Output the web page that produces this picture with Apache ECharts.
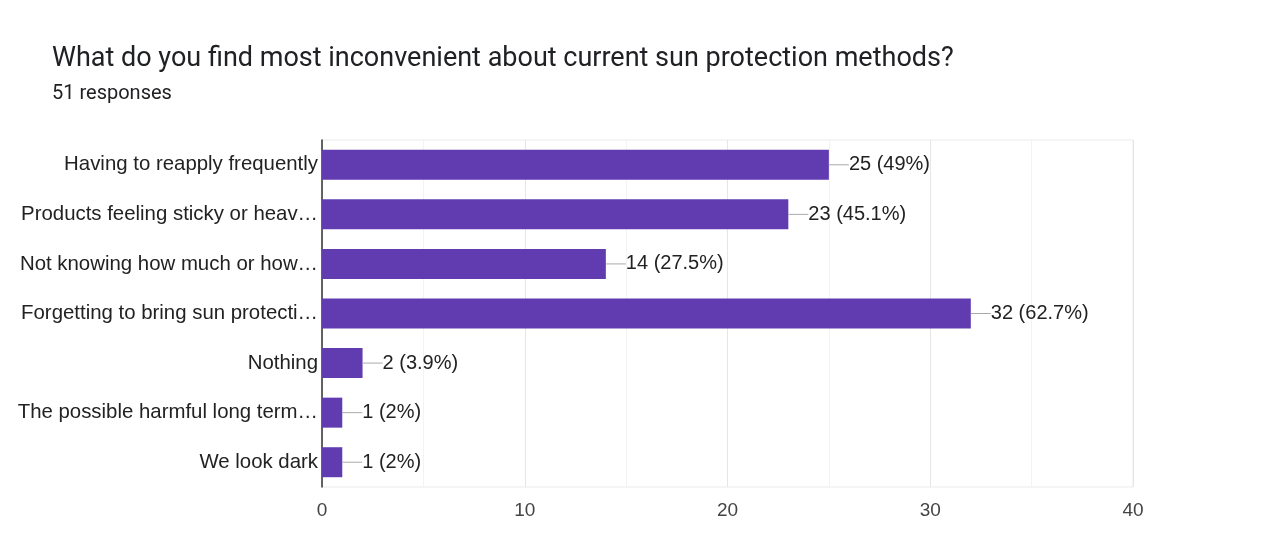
<!DOCTYPE html>
<html>
<head>
<meta charset="utf-8">
<script src="https://cdn.jsdelivr.net/npm/echarts@6/dist/echarts.min.js"></script>
<style>
html,body{margin:0;padding:0;background:#fff;}
#c{width:1262px;height:552px;}
</style>
</head>
<body>
<div id="c"></div>
<script>
const categories = [
  "Having to reapply frequently",
  "Products feeling sticky or heav\u2026",
  "Not knowing how much or how\u2026",
  "Forgetting to bring sun protecti\u2026",
  "Nothing",
  "The possible harmful long term\u2026",
  "We look dark"
];
const counts = [25, 23, 14, 32, 2, 1, 1];
const percents = ["49%", "45.1%", "27.5%", "62.7%", "3.9%", "2%", "2%"];
const xTicks = [0, 10, 20, 30, 40];

const chart = echarts.init(document.getElementById('c'), null, {renderer: 'canvas'});
chart.setOption({
  animation: false,
  backgroundColor: '#fff',
  title: [
    {text: 'What do you find most inconvenient about current sun protection methods?', left: 47, top: 41,
     textStyle: {fontFamily: 'Roboto', fontSize: 27, fontWeight: 'normal', color: '#202124'}},
    {text: '51 responses', left: 47, top: 79,
     textStyle: {fontFamily: 'Roboto', fontSize: 20, fontWeight: 'normal', color: '#202124'}}
  ],
  grid: {left: 322, right: 129, top: 140, bottom: 65, show: true, borderColor: '#ebebeb', borderWidth: 1},
  xAxis: {
    type: 'value', min: 0, max: 40, interval: 10,
    axisLine: {show: false}, axisTick: {show: false},
    axisLabel: {fontFamily: 'Liberation Sans', fontSize: 19, color: '#444', margin: 14,
      formatter: v => xTicks.includes(v) ? String(v) : ''},
    splitLine: {show: true, lineStyle: {color: '#e6e6e6'}},
    minorTick: {show: false, splitNumber: 2},
    minorSplitLine: {show: true, lineStyle: {color: '#f3f3f3'}}
  },
  yAxis: {
    type: 'category', data: categories, inverse: true,
    axisLine: {show: true, lineStyle: {color: '#333', width: 1.5}},
    axisTick: {show: false},
    axisLabel: {fontFamily: 'Liberation Sans', fontSize: 20.4, color: '#222', margin: 4}
  },
  series: [{
    type: 'bar',
    data: counts,
    barWidth: 30,
    itemStyle: {color: '#603cb0'},
    label: {
      show: true, position: 'right', distance: 0,
      formatter: p => '{l|}' + counts[p.dataIndex] + ' (' + percents[p.dataIndex] + ')',
      fontFamily: 'Liberation Sans', fontSize: 20, color: '#222',
      rich: {l: {width: 20, height: 1, backgroundColor: '#aaa'}}
    }
  }]
});
</script>
</body>
</html>
